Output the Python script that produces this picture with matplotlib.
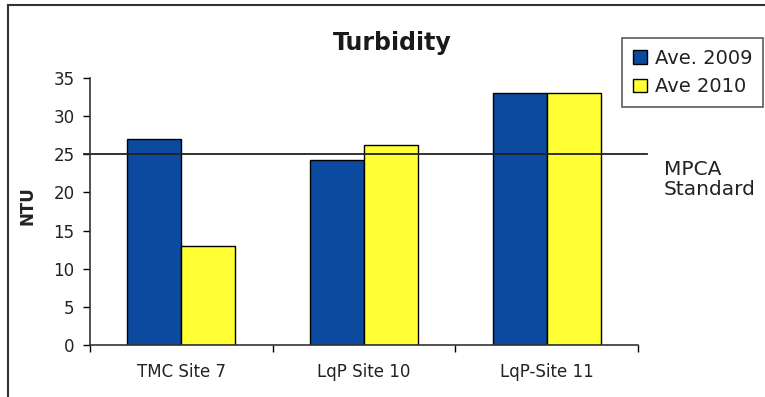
import numpy as np
import matplotlib.pyplot as plt
from matplotlib.lines import Line2D
from matplotlib.patches import Patch

plt.rcParams['font.family'] = ['DejaVu Sans']

# Data
sites = ['TMC Site 7', 'LqP Site 10', 'LqP-Site 11']
ave_2009 = [27, 24.2, 33]
ave_2010 = [13, 26.2, 33]
mpca_standard = 25
y_ticks = [0, 5, 10, 15, 20, 25, 30, 35]

blue = '#0B4A9E'
yellow = '#FFFF33'

fig = plt.figure(figsize=(7.65, 3.97), dpi=100)
ax = fig.add_axes([90 / 765, 1 - 345 / 397, (638 - 90) / 765, (345 - 78) / 397])

x = np.arange(len(sites))
w = 0.295
ax.bar(x - w / 2, ave_2009, w, color=blue, edgecolor='black', linewidth=1, label='Ave. 2009')
ax.bar(x + w / 2, ave_2010, w, color=yellow, edgecolor='black', linewidth=1, label='Ave 2010')

# MPCA standard line (runs a little past the axes)
ax.plot([-0.535, 2.55], [mpca_standard, mpca_standard], color='#222222', lw=1.3, clip_on=False)
fig.text(664 / 765, 1 - 160 / 397, 'MPCA\nStandard', fontsize=14.5, va='top', ha='left',
         linespacing=1.05, color='#222222')

ax.set_xlim(-0.5, 2.5)
ax.set_ylim(0, 35)
ax.set_yticks(y_ticks)
ax.tick_params(axis='y', labelsize=12, length=5, direction='out', width=1, pad=6, labelcolor='#222222')

# category boundaries as ticks, names as minor labels
ax.set_xticks([-0.5, 0.5, 1.5, 2.5])
ax.set_xticklabels([])
ax.set_xticks(x, minor=True)
ax.set_xticklabels(sites, minor=True, fontsize=12, color='#222222')
ax.tick_params(axis='x', which='major', length=5, direction='out', width=1)
ax.tick_params(axis='x', which='minor', length=0, pad=13)

for s in ['top', 'right']:
    ax.spines[s].set_visible(False)
for s in ['left', 'bottom']:
    ax.spines[s].set_color('#333333')
    ax.spines[s].set_linewidth(1.2)

fig.text(28 / 765, 1 - 206 / 397, 'NTU', fontsize=12, fontweight='bold', rotation=90,
         ha='center', va='center', color='#222222')
fig.text(392 / 765, 1 - 43 / 397, 'Turbidity', fontsize=17, fontweight='bold',
         ha='center', va='center', color='#1a1a1a')

handles = [Patch(facecolor=blue, edgecolor='black'), Patch(facecolor=yellow, edgecolor='black')]
leg = fig.legend(handles, ['Ave. 2009', 'Ave 2010'], loc='upper left',
                 bbox_to_anchor=(622 / 765, 1 - 38 / 397), fontsize=14, frameon=True,
                 fancybox=False, edgecolor='#333333', handlelength=0.75, handleheight=0.7,
                 handletextpad=0.4, borderpad=0.55, labelspacing=0.5, borderaxespad=0)
leg.get_frame().set_linewidth(1.2)
for t in leg.get_texts():
    t.set_color('#222222')

# outer chart frame
fig.add_artist(Line2D([8 / 765, 8 / 765], [0, 1 - 5 / 397], transform=fig.transFigure, color='#333333', lw=1.5))
fig.add_artist(Line2D([8 / 765, 1], [1 - 5 / 397, 1 - 5 / 397], transform=fig.transFigure, color='#333333', lw=1.5))

fig.savefig('out.png', dpi=100)
